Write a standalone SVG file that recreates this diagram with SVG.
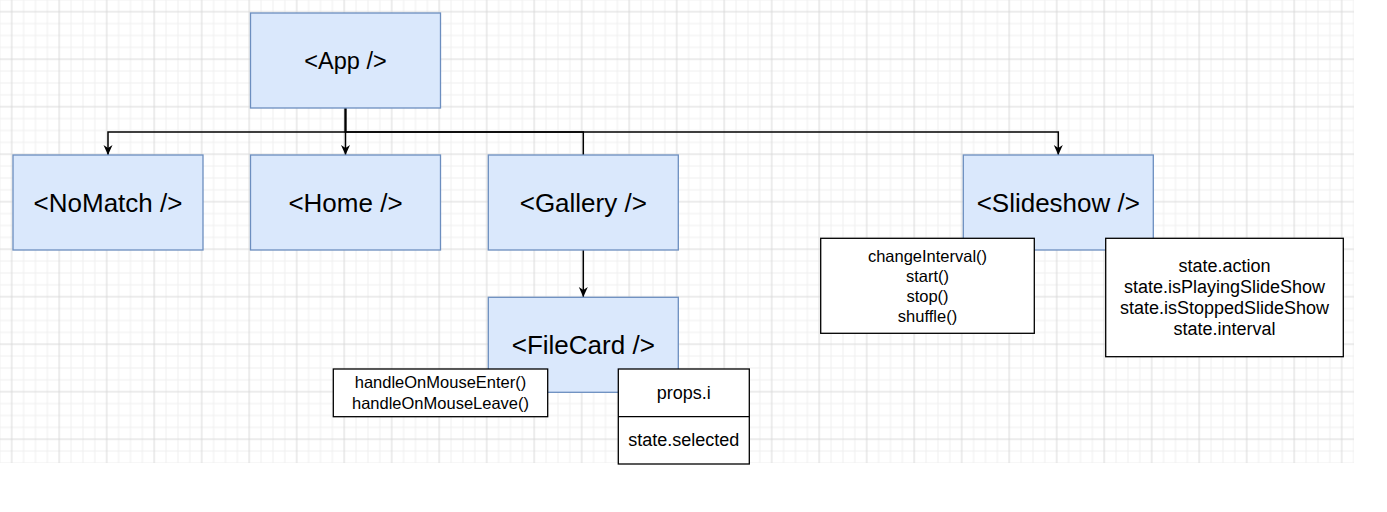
<svg xmlns="http://www.w3.org/2000/svg" width="1387" height="512" viewBox="0 0 1387 512">
  <style>
    .node rect { fill: #dae8fc; stroke: #6c8ebf; stroke-width: 1.3; }
    .node text { font-family: "Liberation Sans", Arial, sans-serif; font-size: 26px; fill: #000; text-anchor: middle; }
    .box rect, .box line { fill: #fff; stroke: #000; stroke-width: 1.3; }
    .box text { font-family: "Liberation Sans", Arial, sans-serif; fill: #000; text-anchor: middle; }
    .s16 { font-size: 16.5px; }
    .s18 { font-size: 18px; }
    .edge { fill: none; stroke: #000; stroke-width: 1.5; }
  </style>
  <defs>
    <pattern id="grid" x="-12.05" y="-12.05" width="47.5" height="47.5" patternUnits="userSpaceOnUse">
      <path d="M11.875 0V47.5M35.625 0V47.5M47.5 0V47.5M0 11.875H47.5M0 35.625H47.5M0 47.5H47.5M0 0V47.5M0 0H47.5" stroke="#efefef" stroke-width="1" fill="none"/>
      <path d="M23.75 0V47.5M0 23.75H47.5" stroke="#d9d9d9" stroke-width="1" fill="none"/>
    </pattern>
    <marker id="arrow" viewBox="0 0 10 10" refX="10" refY="5" markerWidth="10" markerHeight="10" markerUnits="userSpaceOnUse" orient="auto">
      <path d="M0,0.5 L10,5 L0,9.5 L3,5 Z" fill="#000"/>
    </marker>
  </defs>
  <rect width="1387" height="512" fill="#fff"/>
  <rect x="0" y="0" width="1354" height="463" fill="url(#grid)"/>

  <g id="connectors">
    <path class="edge" d="M345.5 108V132H108V155" marker-end="url(#arrow)"/>
    <path class="edge" d="M345.5 108V155" marker-end="url(#arrow)"/>
    <path class="edge" d="M345.5 108V132H583.3V155"/>
    <path class="edge" d="M345.5 108V132H1058.3V155" marker-end="url(#arrow)"/>
    <path class="edge" d="M583.3 250V297" marker-end="url(#arrow)"/>
  </g>

  <g id="app" class="node">
    <rect x="250.5" y="13" width="190" height="95"/>
    <text x="345.5" y="69" style="font-size:23.5px">&lt;App /&gt;</text>
  </g>
  <g id="nomatch" class="node">
    <rect x="13" y="155" width="190" height="95"/>
    <text x="108" y="211.5">&lt;NoMatch /&gt;</text>
  </g>
  <g id="home" class="node">
    <rect x="250.5" y="155" width="190" height="95"/>
    <text x="345.5" y="211.5">&lt;Home /&gt;</text>
  </g>
  <g id="gallery" class="node">
    <rect x="488.3" y="155" width="190" height="95"/>
    <text x="583.3" y="211.5">&lt;Gallery /&gt;</text>
  </g>
  <g id="slideshow" class="node">
    <rect x="963.3" y="155" width="190" height="95"/>
    <text x="1058.3" y="211.5">&lt;Slideshow /&gt;</text>
  </g>
  <g id="filecard" class="node">
    <rect x="488.3" y="297.3" width="190" height="95"/>
    <text x="583.3" y="353.5">&lt;FileCard /&gt;</text>
  </g>

  <g id="slideshow-methods" class="box">
    <rect x="820.7" y="238.3" width="213.6" height="95"/>
    <text class="s16" x="927.5" y="261.5">changeInterval()</text>
    <text class="s16" x="927.5" y="281.5">start()</text>
    <text class="s16" x="927.5" y="301.5">stop()</text>
    <text class="s16" x="927.5" y="321.5">shuffle()</text>
  </g>
  <g id="slideshow-state" class="box">
    <rect x="1105.7" y="238.3" width="237.6" height="118.4"/>
    <text class="s18" x="1224.5" y="271.5">state.action</text>
    <text class="s18" x="1224.5" y="292.5">state.isPlayingSlideShow</text>
    <text class="s18" x="1224.5" y="313.5">state.isStoppedSlideShow</text>
    <text class="s18" x="1224.5" y="334.5">state.interval</text>
  </g>
  <g id="filecard-methods" class="box">
    <rect x="333.3" y="369" width="214.4" height="47.7"/>
    <text class="s16" x="440.5" y="388.3">handleOnMouseEnter()</text>
    <text class="s16" x="440.5" y="408.5">handleOnMouseLeave()</text>
  </g>
  <g id="filecard-data" class="box">
    <rect x="618.3" y="369" width="131" height="95"/>
    <line x1="618.3" y1="416.7" x2="749.3" y2="416.7"/>
    <text class="s18" x="683.8" y="399">props.i</text>
    <text class="s18" x="683.8" y="445.7">state.selected</text>
  </g>
</svg>
